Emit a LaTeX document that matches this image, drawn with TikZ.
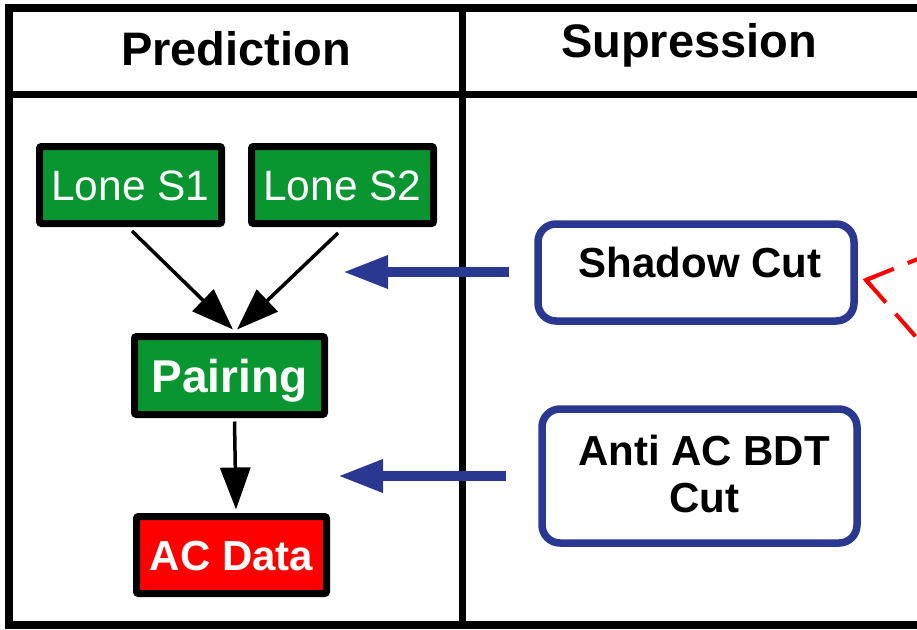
\documentclass[tikz,border=0pt]{standalone}
\usepackage{fontspec}
\setmainfont{Liberation Sans}
\usetikzlibrary{arrows.meta,calc}
\definecolor{boxgreen}{RGB}{9,150,48}
\definecolor{cutblue}{RGB}{42,56,146}
\definecolor{boxred}{RGB}{255,0,0}
\begin{document}
\begin{tikzpicture}[x=1pt,y=-1pt,
  framel/.style={line width=8pt, draw=black},
  headtext/.style={font=\fontsize{47}{50}\selectfont\bfseries, text height=33.8pt, text depth=0pt, inner sep=0pt},
  procbox/.style={draw=black, line width=7pt, rounded corners=2pt, inner sep=0pt, text=white, text depth=0pt},
  greenbox/.style={procbox, fill=boxgreen},
  redbox/.style={procbox, fill=boxred},
  cutbox/.style={draw=cutblue, line width=7.5pt, rounded corners=18pt, fill=white, inner sep=0pt},
  cuttext/.style={font=\fontsize{42}{47.5}\selectfont\bfseries, inner sep=0pt, align=center},
  flow/.style={line width=3.5pt, -{Triangle[length=42pt,width=30pt]}},
  supp/.style={draw=cutblue, line width=9.5pt, -{Triangle[length=45pt,width=31pt]}},
  reddash/.style={draw=boxred, line width=4pt, dash pattern=on 30pt off 15pt}
]
\useasboundingbox (0,0) rectangle (917,629);
\clip (0,0) rectangle (917,629);
% frame
\draw[framel] (9,8) rectangle (960,625);
\draw[line width=7pt] (9,94) -- (960,94);
\draw[line width=7pt] (462,8) -- (462,625);
% headers
\node[headtext] (hpred) at (236,48.5) {Prediction};
\node[headtext] (hsupp) at (689,41) {Supression};
% prediction nodes
\node[greenbox, minimum width=182pt, minimum height=77pt, text height=30.5pt, font=\fontsize{42.5}{45}\selectfont] (s1) at (130.5,185) {Lone S1};
\node[greenbox, minimum width=182pt, minimum height=77pt, text height=30.5pt, font=\fontsize{42.5}{45}\selectfont] (s2) at (342.5,185) {Lone S2};
\node[greenbox, minimum width=190pt, minimum height=78pt, text height=33.1pt, font=\fontsize{46}{50}\selectfont\bfseries] (pair) at (229.5,375.5) {Pairing};
\node[redbox, minimum width=190pt, minimum height=77pt, text height=30.2pt, font=\fontsize{42}{45}\selectfont\bfseries] (acd) at (231.5,555) {AC Data};
% flow arrows
\draw[flow] ($(s1.south)+(1.5,4)$) -- ($(pair.north)+(3.5,-3.5)$);
\draw[flow] ($(s2.south)+(-4.5,6)$) -- ($(pair.north)+(7.5,-3.5)$);
\draw[flow] ($(pair.south)+(5,3.5)$) -- ($(acd.north)+(4.5,-3.5)$);
% suppression boxes
\node[cutbox, minimum width=316pt, minimum height=97pt] (shadow) at (696,272.5) {};
\node[cuttext, text height=30.2pt, text depth=0pt] (shadowtxt) at (700,262) {Shadow Cut};
\node[cutbox, minimum width=315pt, minimum height=134pt] (anti) at (699.5,476) {};
\node[cuttext] (antitxt) at (704,474) {Anti AC BDT\\Cut};
% suppression arrows
\coordinate (shadowfrom) at ($(shadow.west)+(-25,-0.5)$);
\coordinate (shadowto) at (343,272);
\coordinate (antifrom) at ($(anti.west)+(-32,0)$);
\coordinate (antito) at (338,476);
\draw[supp] (shadowfrom) -- (shadowto);
\draw[supp] (antifrom) -- (antito);
% red dashed
\coordinate (redc) at (866,280);
\coordinate (reda) at (945,248);
\coordinate (redb) at (930,353);
\draw[draw=boxred, line width=4pt, miter limit=10] ($(redc)!10pt!(reda)$) -- (redc) -- ($(redc)!10pt!(redb)$);
\draw[reddash] (redc) -- (reda);
\draw[reddash] (redc) -- (redb);
\end{tikzpicture}
\end{document}
